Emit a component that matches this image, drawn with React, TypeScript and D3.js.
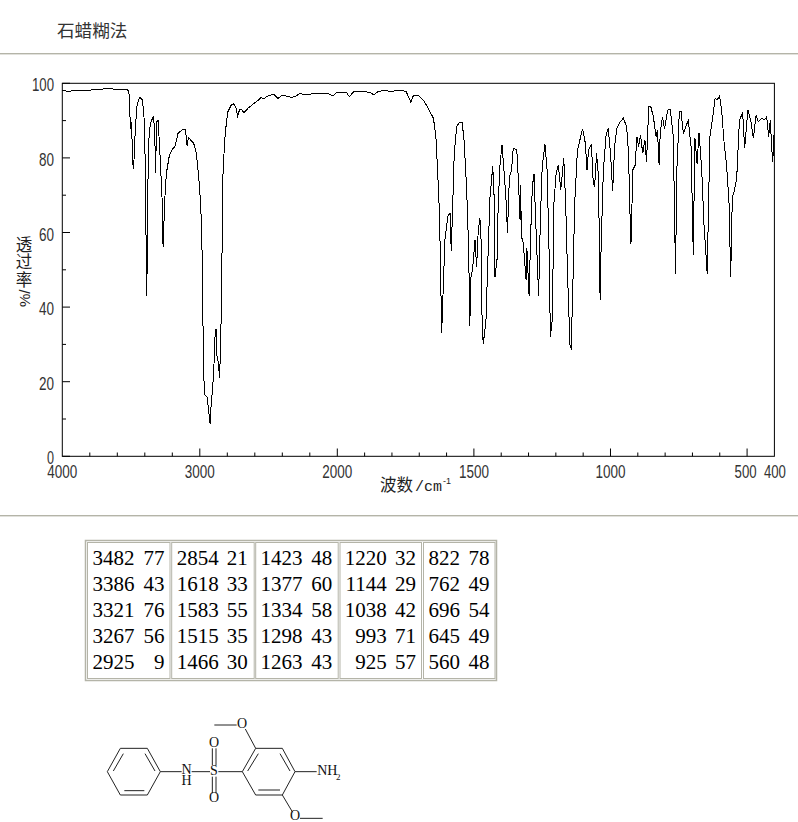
import React from "react";
import * as d3 from "d3";

const wavenumbers = [
  3999,3960,3900,3848,3790,3727,3690,3666,3640,3618,3570,3533,3520,3514,3508,3506,3502,3497,3492,3487,3484,3482,3479,3476,3468,3455,3436,3417,3402,3393,3388,3385,3380,3371,3359,3337,3327,3323,3321,3315,3303,3291,3274,3267,3255,3243,3223,3206,3182,3158,3121,3104,3092,3083,3062,3045,3025,3008,2996,2986,2981,2976,2971,2964,2947,2925,2918,2908,2899,2894,2887,2880,2875,2865,2856,2851,2841,2836,2831,2819,2807,2795,2771,2754,2739,2725,2710,2698,2679,2650,2613,2577,2553,2536,2517,2480,2456,2432,2408,2371,2335,2311,2275,2214,2178,2117,2069,2032,2008,
  1966,1956,1941,1905,1880,1866,1850,1825,1801,1783,1770,1748,1740,1731,1722,1703,1685,1667,1648,1639,1633,1626,1622,1618,1612,1606,1600,1594,1587,1583,1578,1572,1563,1553,1543,1536,1530,1523,1518,1515,1511,1505,1496,1490,1484,1478,1474,1472,1466,1456,1450,1441,1431,1426,1423,1415,1411,1404,1397,1390,1382,1377,1370,1362,1356,1343,1337,1331,1329,1326,1319,1309,1306,1298,1292,1286,1280,1273,1263,1257,1250,1240,1232,1225,1220,1213,1207,1199,1191,1182,1171,1164,1157,1148,1144,1138,1131,1121,1112,1102,1092,1086,1080,1070,1063,1058,1051,1044,1038,1034,1026,1016,1008,1000,992,985,977,965,953,941,934,929,925,918,910,903,897,890,882,874,868,860,853,843,833,828,822,818,810,802,791,781,770,762,757,748,742,733,725,715,705,697,691,683,676,666,658,646,636,627,617,609,601,593,585,575,566,560,554,547,538,528,516,509,497,487,477,467,459,447,437,428,421,415,410,406,402,
];
const transmittance = [
  98,97.9,98,98.1,98.2,98.4,98.5,98.7,98.5,98.4,98.4,98.4,98,96.9,92,87.9,88,89.7,84,79,77.2,77,79,82,88.4,94.6,96.2,95.5,89.3,68.7,43,43,68,84.8,89.3,91.2,86.6,76,76,89.7,90,82,68.7,56,68.7,75.9,80.3,82,83,86.6,87.7,87.5,83.2,85.5,84.6,84,81.2,75,68.7,60.7,48,33,21.4,16.5,15.9,8.7,13.4,17.8,22.3,27.7,34,34,26.8,25,21,27.3,43,65,76,84.8,89.3,92.4,94.2,94.5,93.7,91.3,93,93,92.1,93.3,94.4,95.4,96.2,95.8,96.4,96.9,96.9,95.9,96.6,96.6,96.2,96.4,97.2,97,97.2,97.4,97.3,96.6,97.5,
  97.5,96.4,97.7,97.9,97.5,96.9,97.8,98.1,97.7,98.2,98.2,97.8,96.4,95,96.6,96.7,95.5,93.3,90.6,85.7,76.8,65.1,50,33,45.6,58,61.6,64.7,65.1,55,66,81.2,88.4,89.5,89.5,84.8,76.8,65.1,50,35,48,50,58,50.8,60.7,63.8,58.9,41,30,36,50,69.6,77.7,69.6,48,53,67.8,78.6,83.5,76.8,68.3,60,75,76.8,82.6,82.1,74,63.4,72.7,59,57,47.3,55.8,43,59.8,72.3,75.7,61.6,43,62.5,77.7,83.7,76.8,55.3,32,36.7,67.8,75.9,78.1,71.5,79.9,67.8,48.2,29.5,29,44.8,67.8,82.1,84.8,87.8,83.9,76.8,82.1,83.7,73.2,72.3,81.2,75,42,57.1,76.8,86.1,87.9,81.2,71,83,87.9,89.7,90.6,88.4,81.2,66,57,76.8,78,85.7,83,86.1,81.2,84.8,79,93.7,93.9,91,85.7,87.5,78,86.6,91,87.7,92.8,93,85.7,49,76.8,92.4,92.6,86.4,88.4,90,83,54,85.3,78.5,86.8,76.8,62.5,49,85.7,90.2,96,95.6,96.6,92.8,84.8,78,67.8,48,69.6,71,74.5,90.2,92,82.6,92.8,90.2,85.3,91.5,89.7,90.6,90.2,91,85.7,90.2,83,79,86,
];
const yMajorTicks = [0, 20, 40, 60, 80, 100];
const yMinorTicks = [10, 30, 50, 70, 90];
const xMajorTicks = [3000, 2000, 1500, 1000, 500];
const xMinorTicks = [3800, 3600, 3400, 3200, 2800, 2600, 2400, 2200, 1900, 1800, 1700, 1600, 1400, 1300, 1200, 1100, 900, 800, 700, 600];
const xLabels = [4000, 3000, 2000, 1500, 1000, 500, 400];
const peakTable: [string, string][][] = [
  [["3482","77"],["3386","43"],["3321","76"],["3267","56"],["2925","9"]],
  [["2854","21"],["1618","33"],["1583","55"],["1515","35"],["1466","30"]],
  [["1423","48"],["1377","60"],["1334","58"],["1298","43"],["1263","43"]],
  [["1220","32"],["1144","29"],["1038","42"],["993","71"],["925","57"]],
  [["822","78"],["762","49"],["696","54"],["645","49"],["560","48"]],
];

const GRAY = "#b4b4a8";
const CJK = "'Noto Sans CJK SC', sans-serif";
const NUM = "'Liberation Sans', sans-serif";
const SERIF = "'Liberation Serif', serif";

const cellX = [87.5, 171.7, 255.7, 340, 423.5];
const cellW = [82.5, 82.5, 82.5, 81.5, 71.5];
const numEnd = [134.5, 218.7, 302.5, 386.7, 460];
const valEnd = [164.5, 247.7, 332.3, 416, 489.5];

const bonds: number[][] = [
  [52,200,91,130],[91,130,172,130],[172,130,211,200],[211,200,172,270],[172,270,91,270],[91,270,52,200],
  [70,198,100,146],[165,146,195,198],[103,257,163,257],
  [211,200,275,200],[305,200,360,200],[385,200,457,200],
  [367,130,367,180],[378,130,378,180],[367,215,367,265],[378,215,378,265],
  [457,200,497,130],[497,130,577,130],[577,130,615,200],[615,200,577,270],[577,270,497,270],[497,270,457,200],
  [473,198,505,146],[570,146,600,198],[505,255,570,255],
  [497,130,466,72],[440,60,373,60],[577,270,608,322],[630,340,698,340],[615,200,680,200],
];
const atoms: [string, number, number][] = [
  ["S",372,210],["O",372,127],["O",372,292],["O",456,70],["O",615,346],["NH",712,211],
];

export default function App() {
  const x = d3.scaleLinear().domain([4000, 2000, 400]).range([62.3, 337.3, 774.4]);
  const y = d3.scaleLinear().domain([0, 100]).range([456.3, 83.3]);
  const line = d3.line<number>().x((d) => x(d)).y((_, i) => y(transmittance[i]));
  const mx = (v: number) => 90 + v / 3;
  const my = (v: number) => 705 + v / 3;

  return (
    <svg width={798} height={822} style={{ position: "absolute", left: 0, top: 0, background: "#fff" }}>
      <text x={57} y={37} fontFamily={CJK} fontSize={17.6} fill="#333">石蜡糊法</text>
      <rect x={0} y={53} width={798} height={1.4} fill={GRAY} />
      <rect x={0} y={515} width={798} height={1.4} fill={GRAY} />

      <rect x={x.range()[0]} y={y(100)} width={774.4 - 62.3} height={y(0) - y(100)} fill="none" stroke="#000" strokeWidth={1} />
      {yMajorTicks.map((t) => (
        <g key={t}>
          <line x1={62.3} x2={70} y1={y(t)} y2={y(t)} stroke="#000" />
          <text x={54} y={y(t) + 8} textAnchor="end" fontFamily={NUM} fontSize={19} fill="#333"
            textLength={t === 100 ? 22 : t === 0 ? 7 : 15} lengthAdjust="spacingAndGlyphs">{t}</text>
        </g>
      ))}
      {yMinorTicks.map((t) => (
        <line key={t} x1={62.3} x2={66} y1={y(t)} y2={y(t)} stroke="#000" />
      ))}
      {xMajorTicks.map((t) => (
        <line key={t} x1={x(t)} x2={x(t)} y1={456.3} y2={448.5} stroke="#000" />
      ))}
      {xMinorTicks.map((t) => (
        <line key={t} x1={x(t)} x2={x(t)} y1={456.3} y2={452.5} stroke="#000" />
      ))}
      {xLabels.map((t) => (
        <text key={t} x={t === 500 ? x(t) - 1.5 : t === 400 ? x(t) + 0.5 : x(t)} y={478} textAnchor="middle" fontFamily={NUM} fontSize={19} fill="#333"
          textLength={t >= 1000 ? 30 : 22} lengthAdjust="spacingAndGlyphs">{t}</text>
      ))}

      <path d={line(wavenumbers) ?? ""} fill="none" stroke="#000" strokeWidth={1} shapeRendering="crispEdges" />

      <text x={380} y={491} fontFamily={CJK} fontSize={16.5} fill="#222">波数</text>
      <text x={415} y={491} fontFamily="'Liberation Mono', monospace" fontSize={15} fill="#222">/cm</text>
      <text x={443} y={484} fontFamily={NUM} fontSize={9} fill="#222">-1</text>

      <text x={24} y={236} fontFamily={CJK} fontSize={16.5} fill="#222" letterSpacing={1.2}
        style={{ writingMode: "vertical-rl", textOrientation: "upright" }}>透过率</text>
      <text transform="translate(30,307) rotate(-90)" fontFamily={NUM} fontSize={15} fill="#222">%/</text>

      <rect x={85.5} y={540.5} width={411} height={140} fill="none" stroke={GRAY} strokeWidth={1.5} />
      {peakTable.map((col, ci) => (
        <g key={ci}>
          <rect x={cellX[ci]} y={542.5} width={cellW[ci]} height={136} fill="none" stroke={GRAY} strokeWidth={1} />
          {col.map(([wn, t], ri) => (
            <g key={ri} fontFamily={SERIF} fontSize={21} fill="#000" textAnchor="end">
              <text x={numEnd[ci]} y={565 + ri * 26}>{wn}</text>
              <text x={valEnd[ci]} y={565 + ri * 26}>{t}</text>
            </g>
          ))}
        </g>
      ))}

      {bonds.map((b, i) => (
        <line key={i} x1={mx(b[0])} y1={my(b[1])} x2={mx(b[2])} y2={my(b[3])} stroke="#222" strokeWidth={1} />
      ))}
      {atoms.map(([s, ax, ay], i) => (
        <text key={i} x={mx(ax)} y={my(ay)} textAnchor="middle" fontFamily={SERIF} fontSize={14} fill="#111">{s}</text>
      ))}
      <text textAnchor="middle" fontFamily={SERIF} fontSize={14} fill="#111">
        <tspan x={mx(290)} y={my(207)}>N</tspan>
        <tspan x={mx(290)} y={my(239)}>H</tspan>
      </text>
      <text x={mx(738)} y={my(226)} fontFamily={SERIF} fontSize={9} fill="#111">2</text>
    </svg>
  );
}
